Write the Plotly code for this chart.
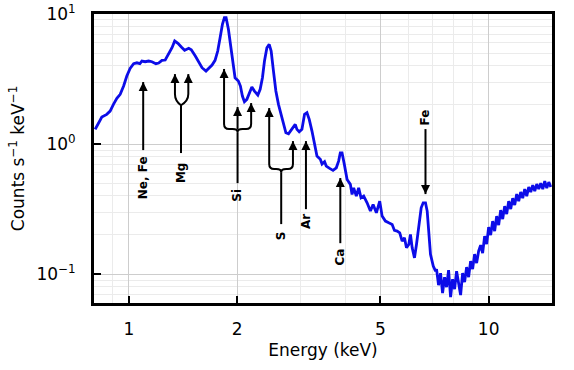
import numpy as np
import plotly.graph_objects as go

energy_keV = [0.806, 0.823, 0.841, 0.868, 0.887, 0.906, 0.926, 0.946, 0.967, 0.987,
              1.008, 1.031, 1.053, 1.073, 1.087, 1.110, 1.135, 1.159, 1.189, 1.210,
              1.236, 1.262, 1.290, 1.318, 1.341, 1.369, 1.399, 1.429, 1.467, 1.491,
              1.530, 1.564, 1.597, 1.638, 1.667, 1.703, 1.736, 1.766, 1.793, 1.820,
              1.843, 1.863, 1.891, 1.924, 1.952, 1.973, 2.015, 2.042, 2.068, 2.095,
              2.128, 2.160, 2.197, 2.234, 2.283, 2.317, 2.351, 2.382, 2.419, 2.455,
              2.486, 2.523, 2.562, 2.605, 2.651, 2.690, 2.732, 2.778, 2.827, 2.869,
              2.900, 2.932, 2.975, 3.027, 3.078, 3.126, 3.172, 3.228, 3.283, 3.333,
              3.405, 3.443, 3.499, 3.537, 3.614, 3.693, 3.772, 3.828, 3.870, 3.913,
              3.971, 4.041, 4.127, 4.172, 4.215, 4.288, 4.352, 4.419, 4.494, 4.593,
              4.692, 4.774, 4.875, 4.980, 5.057, 5.165, 5.276, 5.393, 5.472, 5.568,
              5.661, 5.749, 5.834, 5.910, 5.998, 6.063, 6.130, 6.221, 6.301, 6.395,
              6.494, 6.578, 6.675, 6.748, 6.818, 6.892, 7.015, 7.119,
              7.164, 7.257, 7.351, 7.446, 7.542, 7.639, 7.738, 7.838, 7.939, 8.042,
              8.145, 8.250, 8.357, 8.465, 8.574, 8.685, 8.797, 8.910, 9.025, 9.141,
              9.259, 9.379, 9.500, 9.622, 9.747, 9.873, 10.000, 10.129, 10.260, 10.392,
              10.526, 10.662, 10.800, 10.940, 11.081, 11.224, 11.369, 11.516, 11.665, 11.815,
              11.968, 12.122, 12.279, 12.437, 12.598, 12.760, 12.925, 13.092, 13.261, 13.432,
              13.606, 13.782, 13.960, 14.140, 14.322, 14.507, 14.695, 14.884]

counts = [1.297, 1.458, 1.614, 1.692, 1.794, 2.020, 2.247, 2.412, 2.793, 3.335,
          3.820, 4.147, 4.217, 4.159, 4.348, 4.296, 4.348, 4.296, 4.147, 4.198,
          4.403, 4.428, 4.898, 5.505, 6.198, 5.952, 5.572, 5.258, 5.446, 5.313,
          4.753, 4.296, 3.864, 3.643, 3.820, 4.053, 4.403, 5.193, 6.571, 8.333,
          9.366, 9.366, 7.625, 5.505, 3.981, 3.236, 3.052, 2.793, 2.340, 2.115,
          2.207, 2.481, 2.745, 2.557, 2.382, 2.635, 3.236, 4.348, 5.505, 5.848,
          5.193, 3.643, 2.557, 2.020, 1.692, 1.458, 1.222, 1.200, 1.297, 1.375,
          1.418, 1.297, 1.243, 1.297, 1.692, 1.741, 1.549, 1.259, 0.965, 0.809,
          0.763, 0.702, 0.731, 0.677, 0.650, 0.628, 0.657, 0.740, 0.857, 0.857,
          0.698, 0.535, 0.490, 0.410, 0.461, 0.398, 0.461, 0.386, 0.398, 0.3535,
          0.3053, 0.3437, 0.2962, 0.3644, 0.2794, 0.2557, 0.248, 0.2411, 0.2169, 0.2142,
          0.2078, 0.1795, 0.1902, 0.1594, 0.1692, 0.2020, 0.1594, 0.1335, 0.1692, 0.2271,
          0.3236, 0.3535, 0.3535, 0.3053, 0.2020, 0.1418, 0.1152, 0.1054,
          0.1093, 0.0823, 0.1018, 0.0714, 0.0948, 0.0794, 0.1073, 0.0665, 0.0915, 0.0767,
          0.1054, 0.0853, 0.0690, 0.1018, 0.0868, 0.1132, 0.0948, 0.1259, 0.1093, 0.1425,
          0.1215, 0.1503, 0.1671, 0.1450, 0.1960, 0.1701, 0.2298, 0.1995, 0.2557, 0.2142,
          0.2794, 0.2382, 0.3108, 0.2649, 0.3334, 0.2893, 0.3644, 0.3162, 0.3840, 0.3395,
          0.4125, 0.3644, 0.4276, 0.3840, 0.4510, 0.3980, 0.4669, 0.4276, 0.4838, 0.4350,
          0.4924, 0.4510, 0.5010, 0.4510, 0.5190, 0.4586, 0.5101, 0.4669]

# Simple labelled arrows: label, x (keV), arrow tail y, arrow head y, label y
single_labels = ["Ne, Fe", "Ar", "Ca", "Fe"]
single_x = [1.096, 3.106, 3.87, 6.675]
single_tail = [0.899, 0.316, 0.173, 1.304]
single_head = [2.999, 1.054, 0.548, 0.4125]
single_text_y = [0.548, 0.256, 0.135, 1.613]

# Forked arrows
fork_labels = ["Mg", "Si", "S"]
fork_stem_x = [1.396, 2.005, 2.651]
fork_prong_x = [[1.343, 1.463], [1.839, 2.005, 2.187], [2.455, 2.858]]
fork_prong_head = [[3.45, 3.45], [3.78, 1.927, 2.066], [1.892, 1.054]]
fork_bar_y = [2.142, 1.304, 0.642]
fork_bend_y = [2.425, 1.425, 0.702]
fork_stem_bottom = [0.853, 0.501, 0.2425]
fork_text_y = [0.609, 0.405, 0.196]

x_ticks = [1, 2, 5, 10]
x_minor = [0.9, 3, 4, 6, 7, 8, 9]
y_ticks = [0.1, 1, 10]
y_tick_text = ["10<sup>\u22121</sup>", "10<sup>0</sup>", "10<sup>1</sup>"]
y_minor = [0.06, 0.07, 0.08, 0.09, 0.2, 0.3, 0.4, 0.5, 0.6, 0.7, 0.8, 0.9,
           2, 3, 4, 5, 6, 7, 8, 9]

fig = go.Figure()
fig.add_trace(go.Scatter(x=energy_keV, y=counts, mode="lines",
                         line=dict(color="rgb(12,12,232)", width=2.8),
                         showlegend=False, hoverinfo="skip"))

lw = 2
shapes = []
annotations = []
head_x, head_y, head_sym = [], [], []
lbl_font = dict(family="DejaVu Sans", size=12, color="black", weight="bold")


def arrow(x, y_tail, y_head):
    shapes.append(dict(type="line", x0=x, x1=x, y0=y_tail, y1=y_head, xref="x", yref="y",
                       line=dict(color="black", width=lw)))
    head_x.append(x)
    head_y.append(y_head)
    head_sym.append("arrow-up" if y_head > y_tail else "arrow-down")


for lab, x, t, h, ty in zip(single_labels, single_x, single_tail, single_head, single_text_y):
    arrow(x, t, h)
    annotations.append(dict(x=np.log10(x), y=np.log10(ty), xref="x", yref="y", text=lab,
                            showarrow=False, textangle=-90, font=lbl_font,
                            xanchor="center", yanchor="middle"))

fx = 10 ** (5 / 359)  # small horizontal corner offset factor
for i, lab in enumerate(fork_labels):
    sx = fork_stem_x[i]
    by = fork_bar_y[i]
    bend = fork_bend_y[i]
    px = fork_prong_x[i]
    heads = fork_prong_head[i]
    left, right = px[0], px[-1]
    dip = by * (by / bend) ** 0.6
    if i == 0:
        path = (f"M {left},{bend} Q {left},{by} {sx},{dip} "
                f"Q {right},{by} {right},{bend}")
    else:
        path = (f"M {left},{bend} Q {left},{by} {left*fx},{by} L {sx/fx},{by} "
                f"Q {sx},{by} {sx},{dip} "
                f"M {right},{bend} Q {right},{by} {right/fx},{by} L {sx*fx},{by} "
                f"Q {sx},{by} {sx},{dip}")
    shapes.append(dict(type="path", path=path, xref="x", yref="y",
                       line=dict(color="black", width=lw)))
    shapes.append(dict(type="line", x0=sx, x1=sx, y0=dip, y1=fork_stem_bottom[i],
                       xref="x", yref="y", line=dict(color="black", width=lw)))
    for p, h in zip(px, heads):
        start = bend if (p == left or p == right) else by
        arrow(p, start, h)
    annotations.append(dict(x=np.log10(sx), y=np.log10(fork_text_y[i]), xref="x", yref="y",
                            text=lab, showarrow=False, textangle=-90, font=lbl_font,
                            xanchor="center", yanchor="middle"))

fig.add_trace(go.Scatter(x=head_x, y=head_y, mode="markers",
                         marker=dict(symbol=head_sym, size=9, color="black",
                                     line=dict(width=0)),
                         showlegend=False, hoverinfo="skip", cliponaxis=False))

axis_font = dict(family="DejaVu Sans", size=17, color="black")
fig.update_layout(
    width=574, height=370,
    margin=dict(l=94, r=22, t=14, b=67),
    paper_bgcolor="white", plot_bgcolor="white",
    shapes=shapes, annotations=annotations,
    xaxis=dict(type="log", range=[np.log10(0.8), np.log10(15)],
               tickvals=x_ticks, ticktext=[str(v) for v in x_ticks],
               showgrid=True, gridcolor="#cdcdcd", gridwidth=1,
               minor=dict(tickvals=x_minor, showgrid=True, gridcolor="#ebebeb", ticks=""),
               ticks="inside", ticklen=7, tickwidth=1.5, tickcolor="black",
               showline=True, linecolor="black", linewidth=2.8, mirror=True,
               tickfont=axis_font, ticklabelstandoff=9, automargin=False,
               title=dict(text="Energy (keV)", font=axis_font, standoff=6),
               zeroline=False),
    yaxis=dict(type="log", range=[np.log10(0.06), 1.0],
               tickvals=y_ticks, ticktext=y_tick_text,
               showgrid=True, gridcolor="#cdcdcd", gridwidth=1,
               minor=dict(tickvals=y_minor, showgrid=True, gridcolor="#ebebeb", ticks=""),
               ticks="inside", ticklen=7, tickwidth=1.5, tickcolor="black",
               showline=True, linecolor="black", linewidth=2.8, mirror=True,
               tickfont=axis_font, ticklabelstandoff=12, automargin=False,
               title=dict(text="Counts s<sup>\u22121</sup> keV<sup>\u22121</sup>",
                          font=axis_font, standoff=8),
               zeroline=False),
)

fig.write_html("out.html", config={"displayModeBar": False},
               post_script="document.body.style.margin='0px';")
